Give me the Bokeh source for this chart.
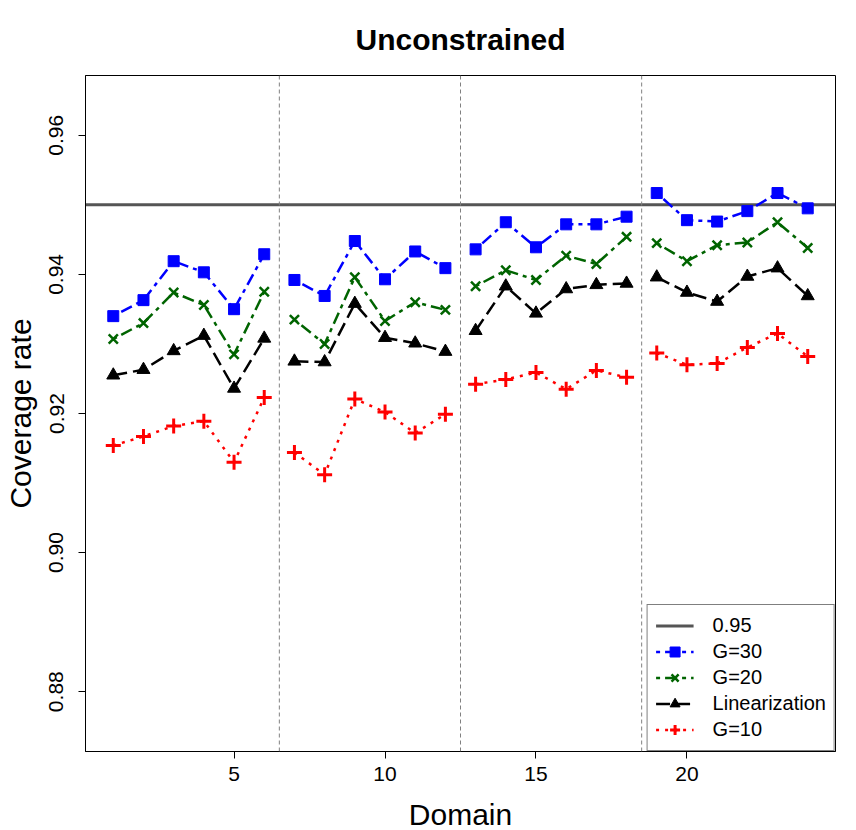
import numpy as np
from bokeh.plotting import figure
from bokeh.models import Range1d, FixedTicker, Span, Legend, LegendItem, PrintfTickFormatter
from bokeh.embed import file_html
from bokeh.resources import INLINE

# ---------------- data ----------------
domains = list(range(1, 25))
group_size = 6
group_breaks = [6.5, 12.5, 18.5]
ref_level = 0.95

g30 = [0.9340, 0.9363, 0.9419, 0.9403, 0.9350, 0.9429,
       0.9392, 0.9369, 0.9448, 0.9393, 0.9433, 0.9409,
       0.9436, 0.9475, 0.9439, 0.9472, 0.9472, 0.9483,
       0.9517, 0.9478, 0.9476, 0.9491, 0.9517, 0.9495]
g20 = [0.9307, 0.9330, 0.9374, 0.9356, 0.9285, 0.9375,
       0.9335, 0.9300, 0.9396, 0.9333, 0.9360, 0.9349,
       0.9383, 0.9406, 0.9392, 0.9427, 0.9415, 0.9454,
       0.9445, 0.9419, 0.9442, 0.9446, 0.9475, 0.9438]
linearization = [0.9255, 0.9263, 0.9290, 0.9312, 0.9236, 0.9308,
                 0.9275, 0.9274, 0.9358, 0.9309, 0.9301, 0.9289,
                 0.9319, 0.9383, 0.9344, 0.9379, 0.9385, 0.9387,
                 0.9396, 0.9374, 0.9361, 0.9397, 0.9409, 0.9369]
g10 = [0.9154, 0.9167, 0.9182, 0.9189, 0.9130, 0.9223,
       0.9144, 0.9112, 0.9221, 0.9202, 0.9172, 0.9199,
       0.9242, 0.9249, 0.9259, 0.9235, 0.9262, 0.9252,
       0.9287, 0.9270, 0.9272, 0.9295, 0.9315, 0.9282]

x_ticks = [5, 10, 15, 20]
y_ticks = [0.88, 0.90, 0.92, 0.94, 0.96]
x_lim = (0.08, 24.92)
y_lim = (0.8714, 0.9686)


def with_breaks(vals):
    """Insert NaN between groups so lines break at group boundaries."""
    out = []
    for i, v in enumerate(vals):
        if i > 0 and i % group_size == 0:
            out.append(np.nan)
        out.append(v)
    return out


FONT = "Liberation Sans"

p = figure(frame_width=750, frame_height=676,
           x_range=Range1d(*x_lim), y_range=Range1d(*y_lim),
           output_backend="svg", toolbar_location=None,
           min_border_left=82, min_border_right=8,
           min_border_top=74, min_border_bottom=70)

p.background_fill_color = "white"
p.border_fill_color = "white"
p.outline_line_color = "black"
p.outline_line_width = 1
p.xgrid.visible = False
p.ygrid.visible = False

p.title.text = "Unconstrained"
p.title.text_font = FONT
p.title.text_font_size = "30px"
p.title.text_font_style = "bold"
p.title.text_color = "black"
p.title.align = "center"
p.title.standoff = 40

# axes
for ax in (p.xaxis[0], p.yaxis[0]):
    ax.axis_line_color = "black"
    ax.major_tick_line_color = "black"
    ax.major_tick_out = 7
    ax.major_tick_in = 0
    ax.minor_tick_line_color = None
    ax.major_label_text_font = FONT
    ax.major_label_text_font_size = "21px"
    ax.major_label_text_color = "black"
    ax.axis_label_text_font = FONT
    ax.axis_label_text_font_size = "30px"
    ax.axis_label_text_font_style = "normal"
    ax.axis_label_text_color = "black"

p.xaxis.ticker = FixedTicker(ticks=x_ticks)
p.yaxis.ticker = FixedTicker(ticks=y_ticks)
p.yaxis.formatter = PrintfTickFormatter(format="%.2f")
p.yaxis.major_label_orientation = "vertical"
p.xaxis.axis_label = "Domain"
p.yaxis.axis_label = "Coverage rate"
p.xaxis.major_label_standoff = 8
p.xaxis.axis_label_standoff = 14
p.yaxis.major_label_standoff = 15
p.yaxis.axis_label_standoff = 10

# group separators
for b in group_breaks:
    p.add_layout(Span(location=b, dimension="height", line_color="#808080",
                      line_width=1, line_dash="4 3"))

# reference line
ref = p.line(x=list(x_lim), y=[ref_level, ref_level], line_color="#555555", line_width=3)

xb = with_breaks(domains)

series = [
    ("G=30", g30, "#0000FF", "4 5 12 5", "square", 11, 1),
    ("G=20", g20, "#006400", "4 5 12 5", "x", 13, 2.5),
    ("Linearization", linearization, "black", "14 6", "triangle", 13, 1),
    ("G=10", g10, "#FF0000", "3 6", "cross", 15, 3),
]

items = [LegendItem(label="0.95", renderers=[ref])]
for label, vals, color, dash, marker, size, mlw in series:
    ln = p.line(x=xb, y=with_breaks(vals), line_color=color, line_width=2.5, line_dash=dash)
    sc = p.scatter(x=domains, y=vals, marker=marker, size=size,
                   fill_color=color, line_color=color, line_width=mlw)
    items.append(LegendItem(label=label, renderers=[ln, sc]))

legend = Legend(items=items, location="bottom_right")
legend.margin = 0
legend.padding = 8
legend.spacing = 1
legend.label_height = 25
legend.glyph_height = 25
legend.glyph_width = 38
legend.label_standoff = 19
legend.label_text_font = FONT
legend.label_text_font_size = "20px"
legend.label_text_color = "black"
legend.border_line_color = "black"
legend.border_line_width = 1
legend.background_fill_color = "white"
legend.background_fill_alpha = 1.0
p.add_layout(legend, "center")

open("out.html", "w").write(file_html(p, INLINE))
